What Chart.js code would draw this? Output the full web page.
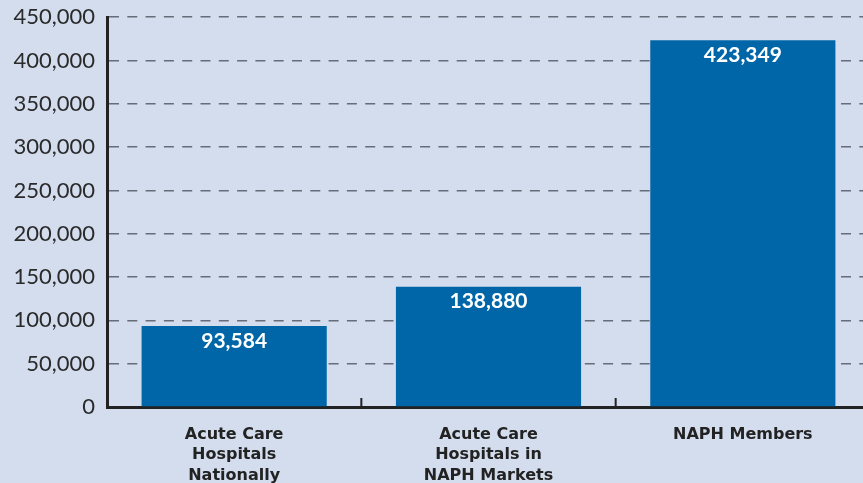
<!DOCTYPE html>
<html><head><meta charset="utf-8">
<script src="https://cdn.jsdelivr.net/npm/chart.js@4/dist/chart.umd.min.js"></script>
<style>
html,body{margin:0;padding:0;background:#d3ddee;overflow:hidden;}
#wrap{width:870px;height:483px;position:relative;overflow:hidden;}
#c{position:absolute;left:0;top:-8px;}
</style></head>
<body><div id="wrap"><canvas id="c" width="870" height="491"></canvas></div>
<script>
const categories = [["Acute Care","Hospitals","Nationally"],["Acute Care","Hospitals in","NAPH Markets"],["NAPH Members"]];
const values = [93584, 138880, 423349];
const yMax = 450000;
const yStep = 50000;

const valueLabels = {
  id:'valueLabels',
  afterDatasetsDraw(chart){
    const ctx = chart.ctx;
    const meta = chart.getDatasetMeta(0);
    ctx.save();
    ctx.fillStyle = '#ffffff';
    ctx.font = 'bold 21px Lato, "DejaVu Sans", sans-serif';
    ctx.textAlign = 'center';
    ctx.textBaseline = 'middle';
    meta.data.forEach((bar,i)=>{
      ctx.fillText(values[i].toLocaleString('en-US'), bar.x, bar.y + 15);
    });
    ctx.restore();
  }
};
const innerTicks = {
  id:'innerTicks',
  afterDraw(chart){
    const xs = chart.scales.x, ys = chart.scales.y;
    const ctx = chart.ctx;
    const y0 = ys.getPixelForValue(0);
    ctx.save();
    ctx.strokeStyle = '#222';
    ctx.lineWidth = 2;
    for(let i=0;i<values.length-1;i++){
      const xb = (xs.getPixelForValue(i)+xs.getPixelForValue(i+1))/2;
      ctx.beginPath();
      ctx.moveTo(xb, y0);
      ctx.lineTo(xb, y0-9);
      ctx.stroke();
    }
    ctx.restore();
  }
};

new Chart(document.getElementById('c'), {
  type:'bar',
  data:{labels:categories, datasets:[{data:values, backgroundColor:'#0066a8', barPercentage:0.728, categoryPercentage:1.0}]},
  options:{
    responsive:false, animation:false,
    layout:{padding:{left:0,top:6,right:0,bottom:0}},
    plugins:{legend:{display:false}, tooltip:{enabled:false}},
    scales:{
      x:{
        grid:{display:false},
        border:{display:true,color:'#222',width:3},
        ticks:{color:'#222',font:{family:'"DejaVu Sans", sans-serif',size:16,weight:'bold',lineHeight:1.3},padding:9,maxRotation:0},
        afterFit(s){ s.height = 76; }
      },
      y:{
        min:0,max:yMax,
        ticks:{stepSize:yStep,color:'#2a2a2a',font:{family:'Lato, "DejaVu Sans", sans-serif',size:22},padding:12,
          callback:v=>v.toLocaleString('en-US')},
        grid:{color:'#666c78',lineWidth:1.5,drawTicks:false},
        border:{display:true,color:'#222',width:3,dash:[10,8.3]},
        afterFit(s){ s.width = 107; }
      }
    }
  },
  plugins:[valueLabels, innerTicks]
});
</script></body></html>
